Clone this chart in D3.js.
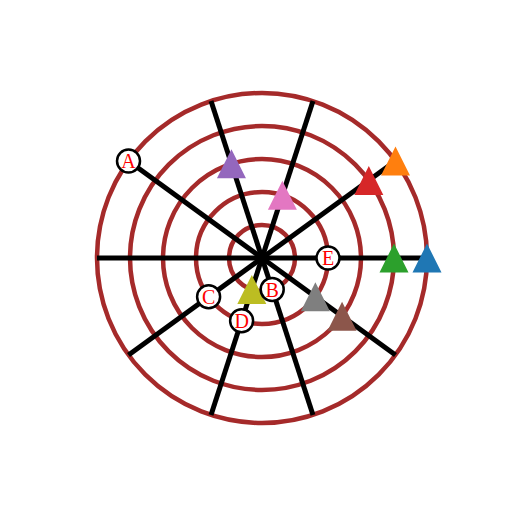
<!DOCTYPE html>
<html>
<head>
<meta charset="utf-8">
<script src="https://cdn.jsdelivr.net/npm/d3@7"></script>
<style>
html,body{margin:0;padding:0;background:#fff;}
svg{display:block;}
</style>
</head>
<body>
<svg id="chart" width="512" height="512"></svg>
<script>
// Data
const ringRadii = [1, 2, 3, 4, 5];
const spokeAngles = [0, 36, 72, 108, 144, 180, 216, 252, 288, 324];
const spokeLength = 5;
const pointAngles = [0, 36, 0, 36, 108, 324, 72, 324, 252];
const pointRadii = [5, 5, 4, 4, 3, 3, 2, 2, 1];
const pointColors = ["#1f77b4", "#ff7f0e", "#2ca02c", "#d62728", "#9467bd", "#8c564b", "#e377c2", "#7f7f7f", "#bcbd22"];
const labelNames = ["A", "B", "C", "D", "E"];
const labelAngles = [144, 288, 216, 252, 0];
const labelRadii = [5, 1, 2, 2, 2];

const svg = d3.select("#chart");
const cx = 262, cy = 258;
const r = d3.scaleLinear().domain([0, 5]).range([0, 165]);
const a = d3.scaleLinear().domain([0, 360]).range([0, 2 * Math.PI]);
const px = (ang, rad) => cx + r(rad) * Math.cos(a(ang));
const py = (ang, rad) => cy - r(rad) * Math.sin(a(ang));

const g = svg.append("g");

g.selectAll("circle.ring").data(ringRadii).enter().append("circle")
  .attr("class", "ring")
  .attr("cx", cx).attr("cy", cy).attr("r", d => r(d))
  .attr("fill", "none").attr("stroke", "#a52a2a").attr("stroke-width", 4.5);

g.selectAll("line.spoke").data(spokeAngles).enter().append("line")
  .attr("class", "spoke")
  .attr("x1", cx).attr("y1", cy)
  .attr("x2", d => px(d, spokeLength)).attr("y2", d => py(d, spokeLength))
  .attr("stroke", "#000").attr("stroke-width", 5);

const tri = d3.symbol().type({draw(ctx, size){ const h = 14.5; ctx.moveTo(0,-h); ctx.lineTo(h,h); ctx.lineTo(-h,h); ctx.closePath(); }});
g.selectAll("path.pt").data(pointAngles).enter().append("path")
  .attr("class", "pt")
  .attr("d", tri())
  .attr("transform", (d, i) => `translate(${px(d, pointRadii[i])},${py(d, pointRadii[i])})`)
  .attr("fill", (d, i) => pointColors[i]);

const lab = g.selectAll("g.lab").data(labelNames).enter().append("g")
  .attr("class", "lab")
  .attr("transform", (d, i) => `translate(${px(labelAngles[i], labelRadii[i])},${py(labelAngles[i], labelRadii[i])})`);
lab.append("circle").attr("r", 11.5).attr("fill", "#fff").attr("stroke", "#000").attr("stroke-width", 2.5);
lab.append("text").text(d => d)
  .attr("text-anchor", "middle").attr("dy", "0.36em")
  .attr("font-family", "'Liberation Serif', 'DejaVu Serif', serif")
  .attr("font-size", 20).attr("fill", "#ff0000");
</script>
</body>
</html>
